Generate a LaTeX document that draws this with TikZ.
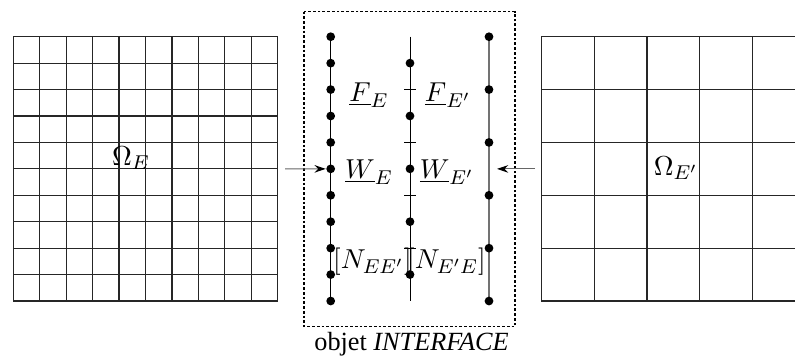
\documentclass[tikz,border=0pt]{standalone}
\usepackage{fontspec}
\newfontfamily\tnr{Liberation Serif}
\usetikzlibrary{arrows.meta}
\tikzset{
  gridline/.style={line width=0.45pt,black!85},
  dotnode/.style={circle,fill=black,inner sep=0pt,minimum size=3.5pt},
  tick/.style={line width=0.4pt},
  arr/.style={line width=0.45pt,black!60,-{Stealth[length=4.5pt,width=3pt,black]}},
  lbl/.style={inner sep=0pt,font=\fontsize{11.3}{13}\selectfont},
  dashbox/.style={line width=0.45pt,dash pattern=on 1.1pt off 0.8pt}
}
\begin{document}
\begin{tikzpicture}[x=0.4pt,y=-0.4pt]
\useasboundingbox (0,0) rectangle (795,363);
\begin{scope}
\clip (0,0) rectangle (795,363);
% left fine grid 10x10
\foreach \i in {0,...,10}{
  \draw[gridline] ({13.3+\i*26.44},36.7) -- ({13.3+\i*26.44},301);
  \draw[gridline] (13.3,{36.7+\i*26.43}) -- (277.7,{36.7+\i*26.43});
}
% right coarse grid
\foreach \i in {0,...,5}{
  \draw[gridline] ({541.3+\i*52.86},36.7) -- ({541.3+\i*52.86},301);
  \draw[gridline] (541.3,{36.7+\i*52.86}) -- (820,{36.7+\i*52.86});
}
\end{scope}
\node[lbl] (omE) at (131,158) {$\Omega_E$};
\node[lbl] (omEp) at (676,168) {$\Omega_{E'}$};
% interface box
\draw[dashbox] (304,11.7) rectangle (515,326.7);
% left line with 11 dots
\draw[line width=0.5pt] (330.7,36.7) -- (330.7,301);
\foreach \i in {0,...,10}{
  \node[dotnode] (L\i) at (330.7,{36.7+\i*26.43}) {};
}
% middle line
\draw[line width=0.4pt] (410,36.7) -- (410,301);
\foreach \i in {0,...,4}{
  \node[dotnode] (M\i) at (410,{63.1+\i*52.86}) {};
}
\foreach \i in {1,...,4}{
  \draw[tick] (404,{36.7+\i*52.86}) -- (416,{36.7+\i*52.86});
}
% right line with 6 dots
\draw[line width=0.5pt,black!55] (489,36.7) -- (489,301);
\foreach \i in {0,...,5}{
  \node[dotnode] (R\i) at (489,{36.7+\i*52.86}) {};
}
% labels
\node[lbl] (FE) at (369,95) {$\underline{F}_E$};
\node[lbl] (FEp) at (448,95) {$\underline{F}_{E'}$};
\node[lbl] (WE) at (369,172) {$\underline{W}_E$};
\node[lbl] (WEp) at (447,172) {$\underline{W}_{E'}$};
\node[lbl] (NEE) at (372.5,262) {$[N_{EE'}]$};
\node[lbl] (NEpE) at (446.5,262) {$[N_{E'E}]$};
% arrows
\coordinate (aL) at (285,168.9);
\coordinate (aR) at (535,168.9);
\coordinate (aRt) at (497,168.9);
\draw[arr] (aL) -- (L5.west);
\draw[arr] (aR) -- (aRt);
\node[inner sep=0pt,font=\tnr\fontsize{10.5}{12}\selectfont] (cap) at (411.5,344) {objet \textit{INTERFACE}};
\end{tikzpicture}
\end{document}
